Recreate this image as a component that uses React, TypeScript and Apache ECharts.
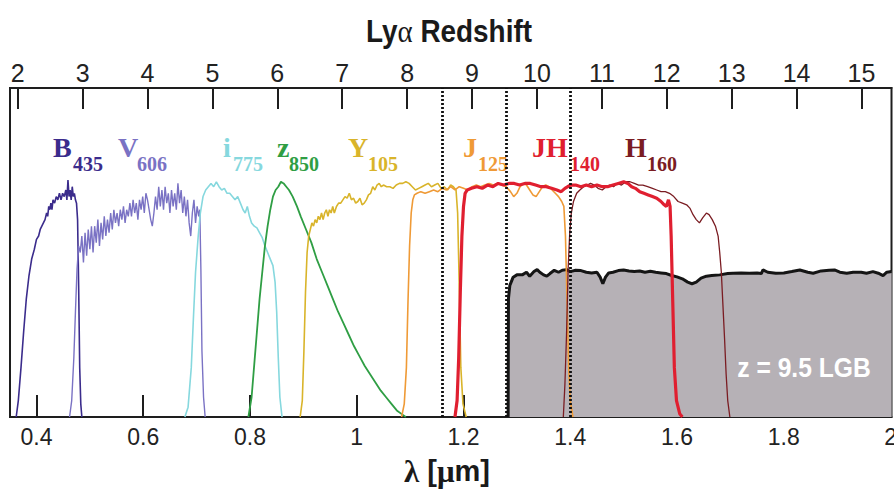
import React, { useEffect, useRef } from "react";
import * as echarts from "echarts";

const LYA = 0.1216; // Lyα rest wavelength in μm
const lambdaTicks = [0.4, 0.6, 0.8, 1.0, 1.2, 1.4, 1.6, 1.8, 2.0];
const zTicks = [2, 3, 4, 5, 6, 7, 8, 9, 10, 11, 12, 13, 14, 15];
const zMarkers = [8.5, 9.5, 10.5];

const B435 = [
  [0.362, 0], [0.366, 0.05], [0.371, 0.15], [0.376, 0.26], [0.381, 0.36], [0.386, 0.43], [0.391, 0.48],
  [0.396, 0.51], [0.4, 0.54], [0.404, 0.55], [0.407, 0.57], [0.41, 0.58], [0.413, 0.59], [0.416, 0.6],
  [0.419, 0.62], [0.421, 0.61], [0.423, 0.64], [0.425, 0.63], [0.427, 0.65], [0.429, 0.63], [0.431, 0.66],
  [0.434, 0.65], [0.437, 0.67], [0.44, 0.66], [0.443, 0.68], [0.446, 0.66], [0.449, 0.68], [0.452, 0.67],
  [0.455, 0.69], [0.457, 0.66], [0.459, 0.72], [0.461, 0.67], [0.463, 0.69], [0.465, 0.66], [0.467, 0.7],
  [0.469, 0.67], [0.471, 0.68], [0.473, 0.66], [0.475, 0.65], [0.477, 0.6], [0.479, 0.4], [0.481, 0.15],
  [0.483, 0.04], [0.485, 0],
];

const V606 = [
  [0.462, 0], [0.466, 0.05], [0.47, 0.18], [0.473, 0.32], [0.476, 0.45], [0.479, 0.52], [0.482, 0.5],
  [0.485, 0.55], [0.488, 0.47], [0.491, 0.56], [0.494, 0.49], [0.497, 0.57], [0.5, 0.51], [0.503, 0.58],
  [0.506, 0.5], [0.509, 0.58], [0.512, 0.53], [0.515, 0.6], [0.518, 0.52], [0.521, 0.59], [0.524, 0.54],
  [0.527, 0.61], [0.53, 0.55], [0.533, 0.6], [0.536, 0.56], [0.539, 0.62], [0.542, 0.57], [0.545, 0.63],
  [0.548, 0.59], [0.551, 0.62], [0.554, 0.58], [0.557, 0.63], [0.56, 0.6], [0.563, 0.64], [0.566, 0.59],
  [0.569, 0.63], [0.572, 0.61], [0.575, 0.65], [0.578, 0.61], [0.581, 0.66], [0.584, 0.62], [0.587, 0.65],
  [0.59, 0.6], [0.593, 0.66], [0.596, 0.63], [0.599, 0.67], [0.602, 0.62], [0.605, 0.68], [0.608, 0.66],
  [0.611, 0.63], [0.614, 0.6], [0.617, 0.58], [0.62, 0.62], [0.623, 0.67], [0.626, 0.63], [0.629, 0.7],
  [0.632, 0.64], [0.635, 0.69], [0.638, 0.63], [0.641, 0.7], [0.644, 0.65], [0.647, 0.68], [0.65, 0.62],
  [0.653, 0.69], [0.656, 0.64], [0.659, 0.68], [0.662, 0.63], [0.665, 0.71], [0.668, 0.65], [0.671, 0.69],
  [0.674, 0.62], [0.677, 0.67], [0.68, 0.61], [0.683, 0.66], [0.686, 0.59], [0.689, 0.55], [0.692, 0.62],
  [0.695, 0.66], [0.698, 0.59], [0.701, 0.64], [0.704, 0.61], [0.706, 0.63], [0.708, 0.45], [0.71, 0.2],
  [0.713, 0.06], [0.716, 0],
];

const I775 = [
  [0.678, 0], [0.684, 0.03], [0.69, 0.15], [0.694, 0.3], [0.698, 0.44], [0.703, 0.55], [0.707, 0.62],
  [0.712, 0.67], [0.717, 0.69], [0.722, 0.7], [0.727, 0.71], [0.732, 0.7], [0.737, 0.715], [0.742, 0.7],
  [0.747, 0.69], [0.752, 0.695], [0.757, 0.68], [0.762, 0.68], [0.767, 0.67], [0.772, 0.66], [0.777, 0.67],
  [0.782, 0.65], [0.787, 0.63], [0.791, 0.62], [0.795, 0.64], [0.799, 0.61], [0.803, 0.59], [0.808, 0.58],
  [0.813, 0.575], [0.818, 0.56], [0.823, 0.545], [0.828, 0.52], [0.833, 0.5], [0.838, 0.48], [0.843, 0.46],
  [0.847, 0.41], [0.85, 0.32], [0.853, 0.18], [0.856, 0.06], [0.86, 0],
];

const Z850 = [
  [0.797, 0], [0.803, 0.06], [0.808, 0.16], [0.813, 0.26], [0.818, 0.36], [0.823, 0.44], [0.828, 0.52],
  [0.833, 0.58], [0.838, 0.63], [0.843, 0.67], [0.848, 0.69], [0.853, 0.7], [0.858, 0.715], [0.863, 0.71],
  [0.868, 0.7], [0.873, 0.69], [0.88, 0.67], [0.888, 0.64], [0.895, 0.61], [0.905, 0.57], [0.915, 0.53],
  [0.925, 0.48], [0.935, 0.44], [0.945, 0.4], [0.955, 0.36], [0.965, 0.32], [0.975, 0.285], [0.985, 0.25],
  [0.995, 0.215], [1.005, 0.185], [1.015, 0.155], [1.025, 0.13], [1.035, 0.105], [1.045, 0.08],
  [1.055, 0.06], [1.065, 0.04], [1.075, 0.02], [1.085, 0.008], [1.092, 0],
];

const Y105 = [
  [0.894, 0], [0.898, 0.05], [0.901, 0.2], [0.904, 0.38], [0.907, 0.5], [0.91, 0.55], [0.913, 0.57],
  [0.916, 0.59], [0.919, 0.58], [0.922, 0.6], [0.925, 0.59], [0.928, 0.61], [0.931, 0.6], [0.934, 0.62],
  [0.937, 0.6], [0.94, 0.62], [0.943, 0.63], [0.946, 0.61], [0.949, 0.63], [0.952, 0.62], [0.955, 0.64],
  [0.958, 0.62], [0.962, 0.64], [0.966, 0.65], [0.97, 0.65], [0.974, 0.66], [0.978, 0.67], [0.982, 0.665],
  [0.986, 0.68], [0.99, 0.66], [0.994, 0.665], [0.998, 0.65], [1.002, 0.655], [1.006, 0.665], [1.01, 0.645],
  [1.014, 0.65], [1.018, 0.66], [1.022, 0.675], [1.026, 0.68], [1.03, 0.7], [1.034, 0.69], [1.038, 0.705],
  [1.042, 0.71], [1.046, 0.7], [1.05, 0.705], [1.056, 0.7], [1.062, 0.7], [1.068, 0.695], [1.074, 0.705],
  [1.08, 0.71], [1.086, 0.71], [1.092, 0.715], [1.098, 0.71], [1.104, 0.7], [1.11, 0.69], [1.116, 0.695],
  [1.122, 0.7], [1.128, 0.705], [1.134, 0.71], [1.14, 0.7], [1.146, 0.705], [1.152, 0.71], [1.158, 0.695],
  [1.164, 0.7], [1.17, 0.69], [1.176, 0.705], [1.181, 0.7], [1.186, 0.69], [1.189, 0.62], [1.192, 0.4],
  [1.195, 0.15], [1.199, 0.04], [1.205, 0],
];

const J125 = [
  [1.084, 0], [1.089, 0.04], [1.093, 0.15], [1.096, 0.35], [1.099, 0.52], [1.102, 0.62], [1.105, 0.66],
  [1.108, 0.675], [1.113, 0.68], [1.12, 0.685], [1.128, 0.68], [1.136, 0.685], [1.144, 0.69], [1.152, 0.685],
  [1.16, 0.695], [1.168, 0.69], [1.176, 0.7], [1.184, 0.69], [1.192, 0.7], [1.2, 0.695], [1.208, 0.69],
  [1.216, 0.7], [1.224, 0.705], [1.232, 0.7], [1.24, 0.705], [1.248, 0.71], [1.256, 0.705], [1.264, 0.71],
  [1.272, 0.705], [1.28, 0.7], [1.288, 0.685], [1.294, 0.67], [1.3, 0.68], [1.306, 0.7], [1.312, 0.71],
  [1.318, 0.705], [1.324, 0.69], [1.33, 0.675], [1.336, 0.67], [1.342, 0.685], [1.348, 0.7], [1.354, 0.705],
  [1.36, 0.7], [1.366, 0.69], [1.372, 0.68], [1.378, 0.67], [1.384, 0.655], [1.388, 0.64], [1.391, 0.55],
  [1.394, 0.35], [1.397, 0.15], [1.4, 0.05], [1.405, 0],
];

const JH140 = [
  [1.184, 0], [1.188, 0.05], [1.191, 0.18], [1.194, 0.38], [1.197, 0.55], [1.2, 0.64], [1.203, 0.68],
  [1.207, 0.69], [1.215, 0.695], [1.225, 0.7], [1.235, 0.695], [1.245, 0.705], [1.255, 0.7], [1.265, 0.71],
  [1.275, 0.705], [1.285, 0.71], [1.295, 0.71], [1.305, 0.705], [1.315, 0.71], [1.325, 0.71], [1.335, 0.705],
  [1.345, 0.7], [1.355, 0.7], [1.365, 0.695], [1.375, 0.69], [1.383, 0.685], [1.39, 0.695], [1.4, 0.705],
  [1.41, 0.705], [1.42, 0.7], [1.43, 0.705], [1.44, 0.7], [1.45, 0.705], [1.46, 0.7], [1.47, 0.7],
  [1.48, 0.705], [1.49, 0.71], [1.5, 0.715], [1.508, 0.71], [1.515, 0.7], [1.522, 0.695], [1.53, 0.685],
  [1.538, 0.68], [1.546, 0.675], [1.554, 0.67], [1.562, 0.665], [1.57, 0.655], [1.576, 0.645], [1.58, 0.64],
  [1.584, 0.66], [1.587, 0.64], [1.589, 0.55], [1.592, 0.35], [1.595, 0.15], [1.599, 0.05], [1.605, 0.01],
  [1.61, 0],
];

const H160 = [
  [1.387, 0], [1.39, 0.1], [1.393, 0.25], [1.396, 0.45], [1.399, 0.56], [1.402, 0.62], [1.406, 0.655],
  [1.412, 0.68], [1.418, 0.69], [1.425, 0.7], [1.432, 0.705], [1.438, 0.71], [1.445, 0.705], [1.452, 0.695],
  [1.46, 0.69], [1.467, 0.7], [1.474, 0.705], [1.481, 0.7], [1.488, 0.71], [1.496, 0.705], [1.504, 0.715],
  [1.512, 0.715], [1.52, 0.71], [1.528, 0.705], [1.536, 0.705], [1.545, 0.7], [1.554, 0.695], [1.562, 0.69],
  [1.57, 0.685], [1.578, 0.685], [1.586, 0.68], [1.594, 0.67], [1.602, 0.655], [1.61, 0.65], [1.618, 0.645],
  [1.624, 0.635], [1.63, 0.615], [1.636, 0.6], [1.642, 0.59], [1.648, 0.605], [1.655, 0.62], [1.66, 0.615],
  [1.666, 0.6], [1.672, 0.58], [1.677, 0.55], [1.68, 0.5], [1.683, 0.44], [1.686, 0.34], [1.689, 0.24],
  [1.692, 0.13], [1.695, 0.05], [1.699, 0],
];

const LGB = [
  [1.2836, 0], [1.2842, 0.36], [1.2868, 0.4], [1.293, 0.425], [1.3, 0.432], [1.31, 0.432], [1.318, 0.44],
  [1.324, 0.428], [1.332, 0.442], [1.338, 0.448], [1.343, 0.44], [1.35, 0.432], [1.356, 0.428], [1.362, 0.436],
  [1.37, 0.446], [1.378, 0.44], [1.385, 0.446], [1.393, 0.448], [1.4, 0.442], [1.41, 0.446], [1.42, 0.445],
  [1.43, 0.44], [1.44, 0.438], [1.45, 0.44], [1.456, 0.425], [1.461, 0.405], [1.466, 0.425], [1.472, 0.438],
  [1.48, 0.44], [1.49, 0.445], [1.5, 0.447], [1.51, 0.444], [1.52, 0.442], [1.53, 0.444], [1.54, 0.44],
  [1.55, 0.443], [1.56, 0.44], [1.57, 0.438], [1.58, 0.436], [1.59, 0.43], [1.6, 0.426], [1.61, 0.42],
  [1.62, 0.41], [1.628, 0.405], [1.636, 0.41], [1.645, 0.422], [1.655, 0.428], [1.665, 0.43], [1.68, 0.432],
  [1.695, 0.436], [1.705, 0.437], [1.72, 0.438], [1.735, 0.437], [1.75, 0.438], [1.758, 0.436], [1.761, 0.447],
  [1.77, 0.44], [1.785, 0.437], [1.8, 0.438], [1.815, 0.442], [1.83, 0.447], [1.845, 0.44], [1.855, 0.437],
  [1.87, 0.444], [1.885, 0.446], [1.895, 0.447], [1.905, 0.44], [1.918, 0.437], [1.93, 0.44], [1.945, 0.44],
  [1.955, 0.437], [1.967, 0.442], [1.977, 0.437], [1.986, 0.43], [1.993, 0.44], [2.002, 0.442],
];

const filterNames = ["B", "V", "i", "z", "Y", "J", "JH", "H"];
const filterSubs = ["435", "606", "775", "850", "105", "125", "140", "160"];
const lgbLabel = "z = 9.5 LGB";

export default function App() {
  const ref = useRef<HTMLDivElement>(null);

  useEffect(() => {
    if (!ref.current) return;
    const chart = echarts.init(ref.current, undefined, { renderer: "svg" });

    const colors = ["#3b2c8c", "#7a72c4", "#86d8de", "#2f9e44", "#d9b42a", "#ef9a36", "#e01f30", "#7a1c22"];
    const widths = [1.6, 1.4, 1.6, 1.8, 1.6, 1.6, 3.2, 1.3];
    const curves = [B435, V606, I775, Z850, Y105, J125, JH140, H160];
    // label layout (pixels): main letter left x, subscript left x
    const mainX = [53, 118, 223, 277, 348, 463, 532, 625];
    const subX = [73, 137, 233, 289, 368, 478, 570, 647];

    const serif = '"Liberation Serif", "DejaVu Serif", serif';
    const sans = '"Liberation Sans", Arial, sans-serif';

    const fmtLambda = (v: number) => {
      const r = Math.round(v * 10) / 10;
      return Number.isInteger(r) ? String(r) : r.toFixed(1);
    };

    const labelGraphics: any[] = [];
    filterNames.forEach((n, k) => {
      labelGraphics.push({
        type: "text",
        x: mainX[k],
        y: 147,
        style: { text: n, fill: colors[k], font: `bold 28px ${serif}`, verticalAlign: "middle", align: "left" },
        silent: true,
      });
      labelGraphics.push({
        type: "text",
        x: subX[k],
        y: 164,
        style: { text: filterSubs[k], fill: colors[k], font: `bold 20px ${serif}`, verticalAlign: "middle", align: "left" },
        silent: true,
      });
    });

    const option: any = {
      animation: false,
      backgroundColor: "#ffffff",
      grid: {
        left: 10,
        right: 2.5,
        top: 88,
        bottom: 73,
        outerBoundsMode: "none",
        containLabel: false,
        show: true,
        borderColor: "#1e1e1e",
        borderWidth: 2,
        backgroundColor: "transparent",
      },
      xAxis: [
        {
          type: "value",
          position: "bottom",
          min: 0.3504,
          max: 2.0018,
          axisLine: { show: true, lineStyle: { color: "#1e1e1e", width: 2 } },
          axisTick: { show: true, inside: true, length: 22, lineStyle: { color: "#1e1e1e", width: 2 }, customValues: lambdaTicks },
          axisLabel: { show: true, customValues: lambdaTicks, formatter: fmtLambda, color: "#222", fontSize: 23, fontFamily: sans, margin: 8, hideOverlap: false },
          splitLine: { show: false },
        },
        {
          type: "value",
          position: "top",
          min: 0.3504,
          max: 2.0018,
          axisLine: { show: true, lineStyle: { color: "#1e1e1e", width: 2 } },
          axisTick: { show: true, inside: true, length: 21, lineStyle: { color: "#1e1e1e", width: 2 }, customValues: zTicks.map((z) => LYA * (1 + z)) },
          axisLabel: {
            show: true,
            customValues: zTicks.map((z) => LYA * (1 + z)),
            formatter: (v: number) => String(Math.round(v / LYA - 1)),
            color: "#222",
            fontSize: 25,
            fontFamily: sans,
            margin: 3,
          },
          splitLine: { show: false },
        },
      ],
      yAxis: { type: "value", min: 0, max: 1, show: false, splitLine: { show: false } },
      series: [
        {
          type: "line",
          name: "LGB",
          data: LGB,
          symbol: "none",
          showSymbol: false,
          silent: true,
          lineStyle: { color: "#151515", width: 3 },
          areaStyle: { color: "#b6b1b6", opacity: 1 },
          z: 1,
        },
        ...curves.map((d, k) => ({
          type: "line",
          name: filterNames[k] + filterSubs[k],
          data: d,
          symbol: "none",
          showSymbol: false,
          silent: true,
          lineStyle: { color: colors[k], width: widths[k] },
          z: 2 + (k === 6 ? 1 : 0),
        })),
        {
          type: "line",
          name: "zMarkers",
          data: [],
          silent: true,
          z: 5,
          markLine: {
            silent: true,
            symbol: ["none", "none"],
            label: { show: false },
            lineStyle: { color: "#111", width: 2.8, type: [2, 2] },
            data: zMarkers.map((z) => ({ xAxis: LYA * (1 + z) })),
          },
        },
      ],
      graphic: [
        ...labelGraphics,
        {
          type: "text",
          x: 449,
          y: 31,
          scaleX: 0.9,
          style: {
            text: "Ly{g|α} Redshift",
            fill: "#1a1a1a",
            font: `bold 31px ${sans}`,
            align: "center",
            verticalAlign: "middle",
            rich: { g: { fontFamily: serif, fontSize: 32, fontWeight: "normal", fill: "#1a1a1a" } },
          },
          silent: true,
        },
        {
          type: "text",
          x: 447,
          y: 471,
          style: {
            text: "{g|λ} [{g|μ}m]",
            fill: "#1a1a1a",
            font: `bold 29px ${sans}`,
            align: "center",
            verticalAlign: "middle",
            rich: { g: { fontFamily: serif, fontSize: 31, fontWeight: "bold", fill: "#1a1a1a" } },
          },
          silent: true,
        },
        {
          type: "text",
          x: 804,
          y: 367,
          scaleX: 0.88,
          style: {
            text: lgbLabel,
            fill: "#ffffff",
            font: `bold 28px ${sans}`,
            align: "center",
            verticalAlign: "middle",
          },
          silent: true,
          z: 10,
        },
      ],
    };

    chart.setOption(option);
    return () => chart.dispose();
  }, []);

  return <div ref={ref} style={{ position: "fixed", left: 0, top: 0, width: 894, height: 490, background: "#fff" }} />;
}
